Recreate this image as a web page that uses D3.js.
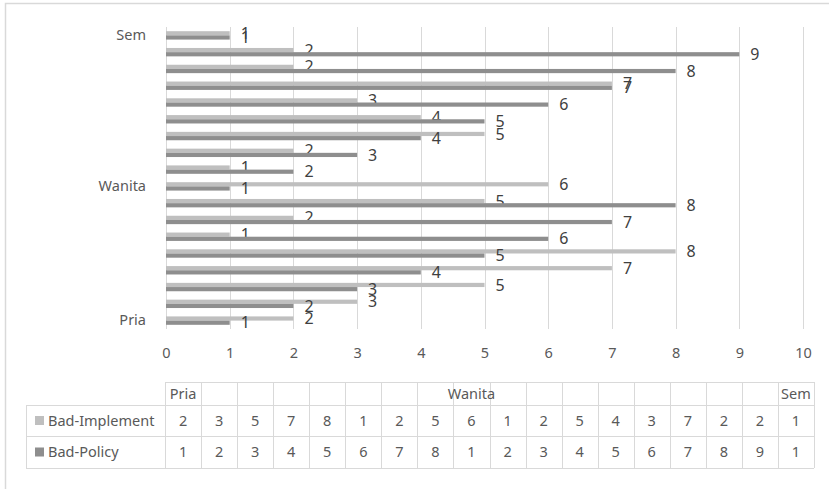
<!DOCTYPE html>
<html>
<head>
<meta charset="utf-8">
<script src="https://cdn.jsdelivr.net/npm/d3@7"></script>
<style>
  html, body { margin: 0; padding: 0; background: #fff; }
  svg { display: block; }
  text { font-family: "Noto Sans", "Open Sans", sans-serif; }
</style>
</head>
<body>
<svg id="chart" width="829" height="489"></svg>
<script>
// Category labels (multi-level: group name on its first/middle row, blanks elsewhere)
const categories = ["Pria", "", "", "", "", "", "", "", "Wanita", "", "", "", "", "", "", "", "", "Sem"];
const seriesNames = ["Bad-Implement", "Bad-Policy"];
const badImplement = [2, 3, 5, 7, 8, 1, 2, 5, 6, 1, 2, 5, 4, 3, 7, 2, 2, 1];
const badPolicy    = [1, 2, 3, 4, 5, 6, 7, 8, 1, 2, 3, 4, 5, 6, 7, 8, 9, 1];
const xTicks = [0, 1, 2, 3, 4, 5, 6, 7, 8, 9, 10];

const colors = { "Bad-Implement": "#bfbfbf", "Bad-Policy": "#8e8e8e" };
const seriesValues = { "Bad-Implement": badImplement, "Bad-Policy": badPolicy };

const svg = d3.select("#chart");
const plot = { left: 166, right: 803, top: 27, bottom: 329 };

// outer chart frame (only top/left edges fall inside the view)
svg.append("rect")
  .attr("x", 5.5).attr("y", 3.5)
  .attr("width", 900).attr("height", 600)
  .attr("fill", "none").attr("stroke", "#d9d9d9").attr("stroke-width", 1.5);

const x = d3.scaleLinear().domain([0, 10]).range([plot.left, plot.right]);
const idx = d3.range(categories.length);
const y = d3.scaleBand().domain(idx).range([plot.bottom, plot.top])
  .paddingInner(0.5).paddingOuter(0.25);
const ySub = d3.scaleBand().domain(seriesNames).range([0, y.bandwidth()]);

// vertical gridlines
svg.append("g").selectAll("line").data(xTicks).join("line")
  .attr("x1", d => Math.round(x(d)) + 0.5).attr("x2", d => Math.round(x(d)) + 0.5)
  .attr("y1", plot.top).attr("y2", plot.bottom)
  .attr("stroke", "#d9d9d9").attr("stroke-width", 1);

// x-axis tick labels
const xAxis = d3.axisBottom(x).tickValues(xTicks).tickSize(0).tickPadding(0);
const gx = svg.append("g").attr("transform", `translate(0,353)`).call(xAxis);
gx.select(".domain").remove();
gx.selectAll("text")
  .attr("y", 0).attr("dy", "0.35em")
  .attr("fill", "#595959").style("font-size", "14.5px")
  .style("font-family", '"Noto Sans", sans-serif');

// y-axis category labels
const yAxis = d3.axisLeft(y).tickFormat(i => categories[i]).tickSize(0).tickPadding(0);
const gy = svg.append("g").attr("transform", `translate(146,0)`).call(yAxis);
gy.select(".domain").remove();
gy.selectAll("text")
  .attr("fill", "#595959").style("font-size", "14.5px")
  .style("font-family", '"Noto Sans", sans-serif');

// bars + value labels
seriesNames.forEach(name => {
  const vals = seriesValues[name];
  const g = svg.append("g");
  g.selectAll("rect").data(idx).join("rect")
    .attr("x", x(0))
    .attr("y", i => y(i) + ySub(name))
    .attr("width", i => x(vals[i]) - x(0))
    .attr("height", ySub.bandwidth())
    .attr("fill", colors[name]);
  g.selectAll("text").data(idx).join("text")
    .attr("x", i => x(vals[i]) + 11)
    .attr("y", i => y(i) + ySub(name) + ySub.bandwidth() / 2)
    .attr("dy", "0.35em")
    .attr("fill", "#404040")
    .style("font-size", "16px")
    .text(i => vals[i]);
});

// data table
const tbl = { left: 26, colStart: 165, right: 814, rows: [382, 405, 436, 468] };
const col = d3.scaleBand().domain(idx).range([tbl.colStart, tbl.right]);
const grid = svg.append("g").attr("stroke", "#d9d9d9").attr("stroke-width", 1);
// horizontal lines
grid.append("line").attr("x1", tbl.colStart).attr("x2", tbl.right)
  .attr("y1", tbl.rows[0] + 0.5).attr("y2", tbl.rows[0] + 0.5);
tbl.rows.slice(1).forEach(r => {
  grid.append("line").attr("x1", tbl.left).attr("x2", tbl.right)
    .attr("y1", r + 0.5).attr("y2", r + 0.5);
});
// vertical lines
grid.append("line").attr("x1", tbl.left + 0.5).attr("x2", tbl.left + 0.5)
  .attr("y1", tbl.rows[1]).attr("y2", tbl.rows[3]);
idx.concat([categories.length]).forEach(k => {
  const xx = Math.round(k < categories.length ? col(k) : tbl.right) + 0.5;
  grid.append("line").attr("x1", xx).attr("x2", xx)
    .attr("y1", tbl.rows[0]).attr("y2", tbl.rows[3]);
});

// header row: group names
svg.append("g").selectAll("text").data(idx.filter(i => categories[i])).join("text")
  .attr("x", i => col(i) + col.bandwidth() / 2)
  .attr("y", (tbl.rows[0] + tbl.rows[1]) / 2)
  .attr("dy", "0.35em").attr("text-anchor", "middle")
  .attr("fill", "#595959").style("font-size", "14.5px")
  .text(i => categories[i]);

// series rows
seriesNames.forEach((name, r) => {
  const cy = (tbl.rows[r + 1] + tbl.rows[r + 2]) / 2;
  const g = svg.append("g");
  g.append("rect").attr("x", 35).attr("y", cy - 4.5).attr("width", 9).attr("height", 9)
    .attr("fill", colors[name]);
  g.append("text").attr("x", 48).attr("y", cy).attr("dy", "0.35em")
    .attr("fill", "#595959").style("font-size", "14.5px").text(name);
  g.selectAll("text.v").data(idx).join("text").attr("class", "v")
    .attr("x", i => col(i) + col.bandwidth() / 2)
    .attr("y", cy).attr("dy", "0.35em").attr("text-anchor", "middle")
    .attr("fill", "#595959").style("font-size", "14.5px")
    .text(i => seriesValues[name][i]);
});
</script>
</body>
</html>
